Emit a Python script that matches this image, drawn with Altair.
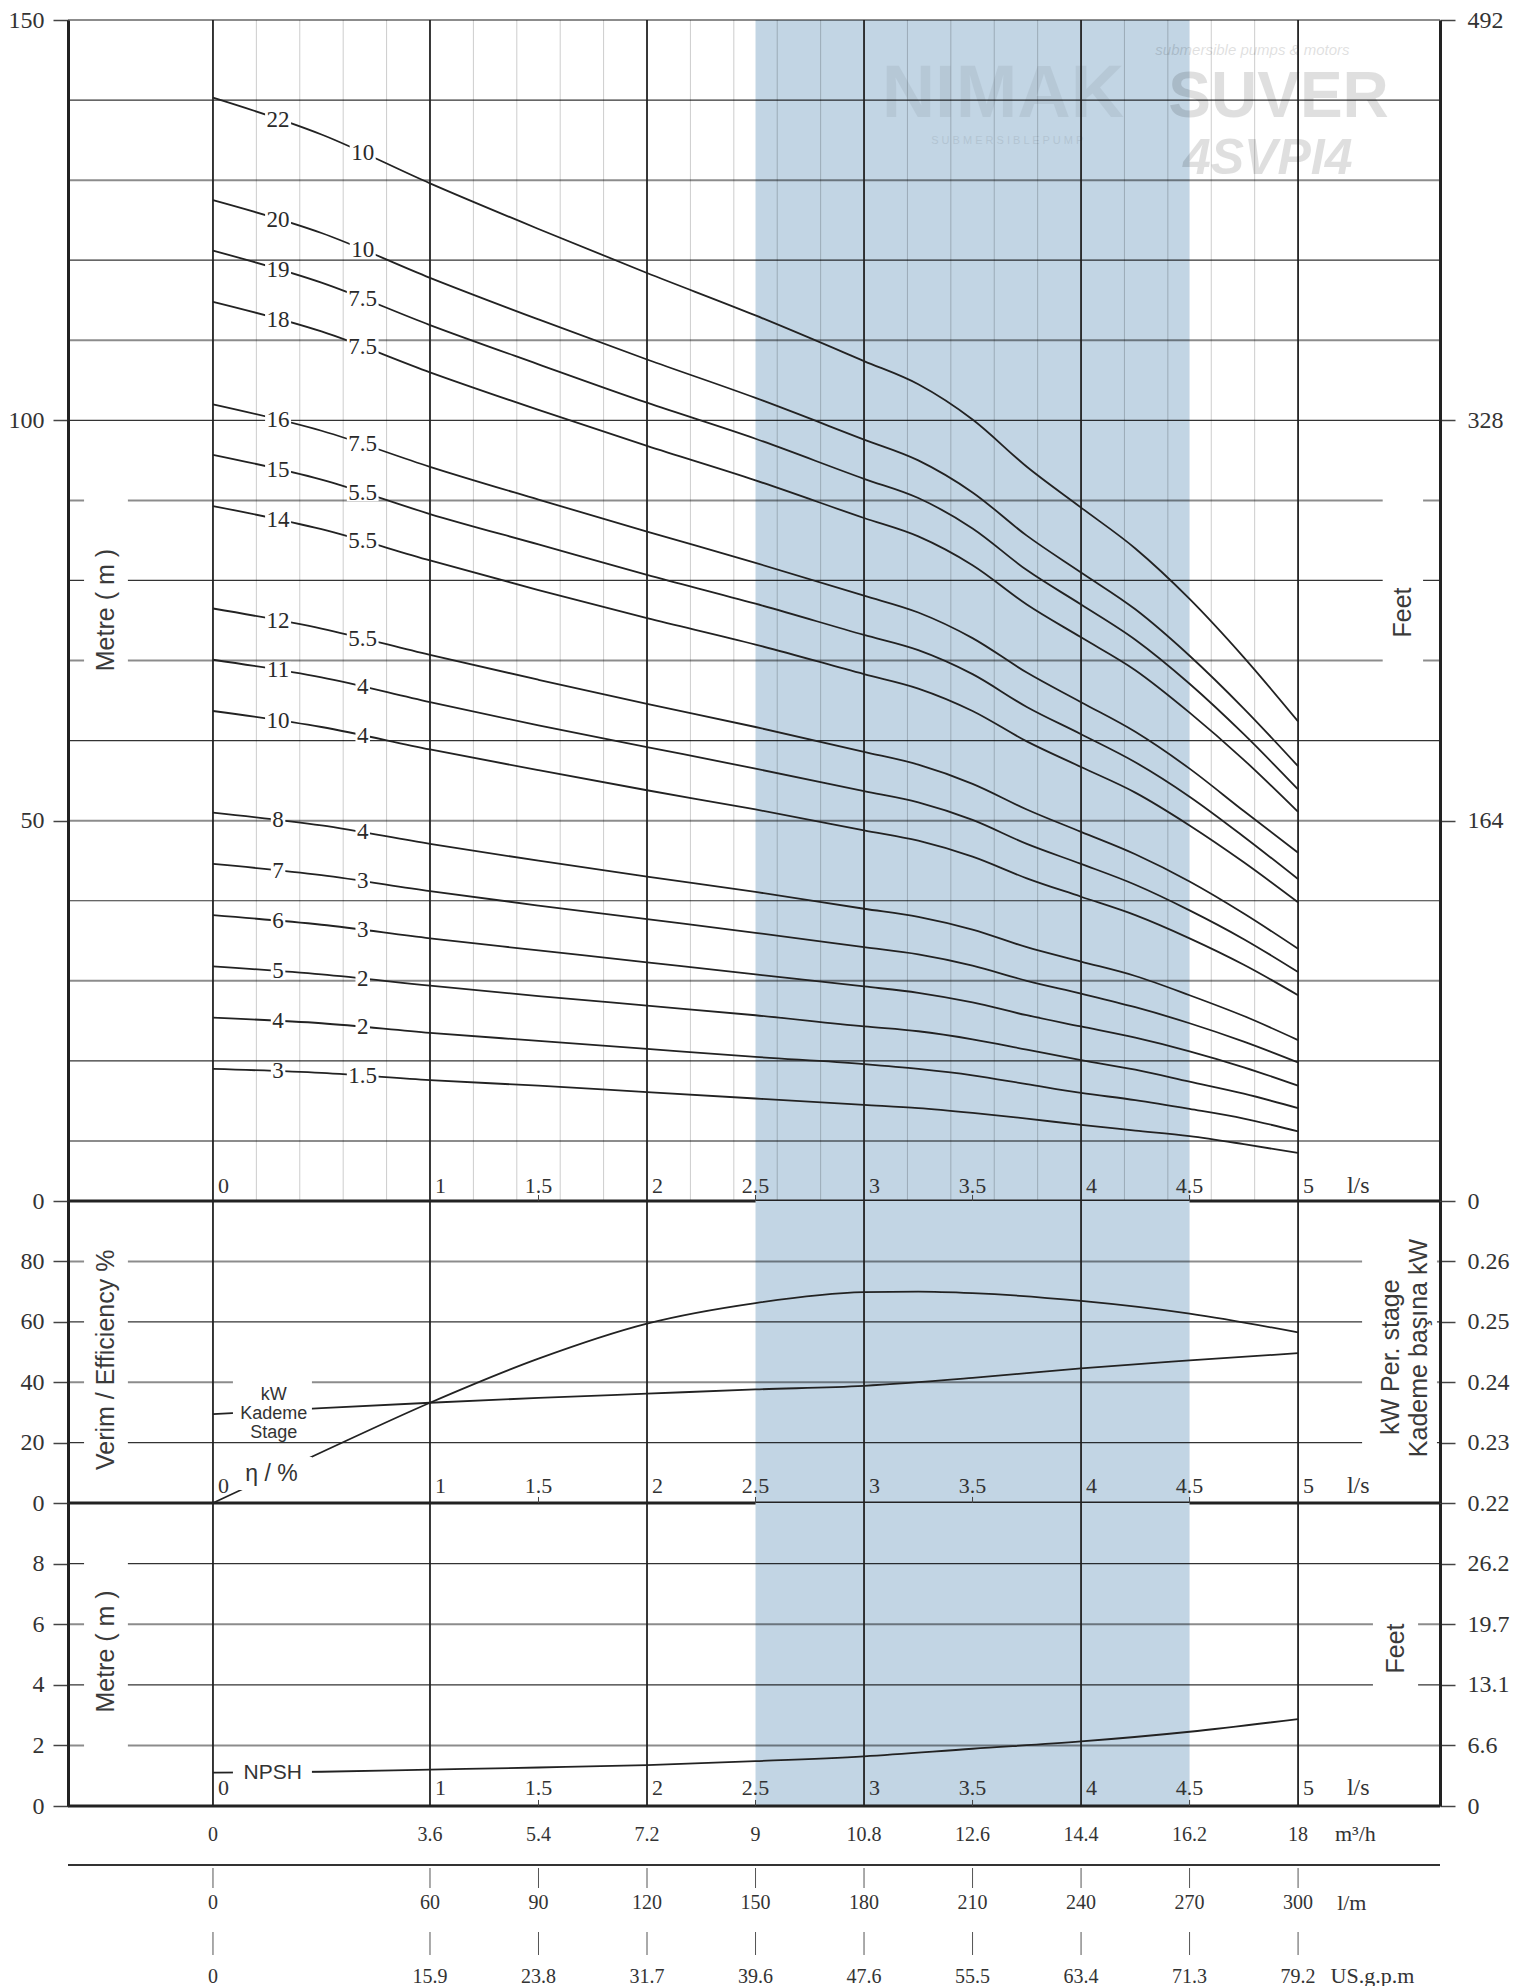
import altair as alt
import numpy as np
import pandas as pd

SERIF = "Liberation Serif"
SANS = "Liberation Sans"
INK = "#222222"
SHADE_COLOR = "#c2d5e4"

# ---------------- flow axis (l/s) ----------------
XDOM = [-0.668, 5.654]
PLOT_W = 1372
PX_PER_Q = 217.0
SHADE_Q = [2.5, 4.5]
MAJOR_Q = [0, 1, 2, 3, 4, 5]
MINOR_Q = [0.2, 0.4, 0.6, 0.8, 1.2, 1.4, 1.6, 1.8, 2.2, 2.4, 2.6, 2.8, 3.2, 3.4, 3.6, 3.8,
           4.2, 4.4, 4.6, 4.8]
LS_INT = [0, 1, 2, 3, 4, 5]
LS_HALF = [1.5, 2.5, 3.5, 4.5]

# ---------------- head curves (m), one list per pump ----------------
Q_PTS = [0, 0.5, 1, 1.5, 2, 2.5, 3, 3.25, 3.5, 3.75, 4, 4.25, 4.5, 4.75, 5]
STAGES = [22, 20, 19, 18, 16, 15, 14, 12, 11, 10, 8, 7, 6, 5, 4, 3]
MOTOR_KW = ["10", "10", "7.5", "7.5", "7.5", "5.5", "5.5", "5.5", "4", "4", "4", "3", "3", "2", "2", "1.5"]
H_22 = [140.3, 135.7, 129.6, 123.9, 118.4, 113.1, 107.4, 104.5, 100.1, 94.2, 89.1, 84.0, 77.7, 70.4, 62.4]
H_20 = [127.5, 123.4, 117.8, 112.6, 107.6, 102.8, 97.6, 95.0, 91.0, 85.6, 81.0, 76.4, 70.6, 64.0, 56.8]
H_19 = [121.2, 117.2, 111.9, 107.0, 102.2, 97.7, 92.7, 90.3, 86.5, 81.3, 77.0, 72.6, 67.1, 60.8, 53.9]
H_18 = [114.8, 111.1, 106.0, 101.3, 96.8, 92.5, 87.8, 85.5, 81.9, 77.0, 72.9, 68.8, 63.5, 57.6, 51.1]
H_16 = [102.0, 98.7, 94.2, 90.1, 86.1, 82.2, 78.1, 76.0, 72.8, 68.5, 64.8, 61.1, 56.5, 51.2, 46.0]
H_15 = [95.7, 92.6, 88.3, 84.5, 80.7, 77.1, 73.2, 71.3, 68.3, 64.2, 60.8, 57.3, 53.0, 48.0, 42.7]
H_14 = [89.3, 86.4, 82.5, 78.8, 75.3, 72.0, 68.3, 66.5, 63.7, 59.9, 56.7, 53.5, 49.4, 44.8, 39.8]
H_12 = [76.5, 74.0, 70.7, 67.6, 64.6, 61.7, 58.6, 57.0, 54.6, 51.4, 48.6, 45.8, 42.4, 38.4, 34.0]
H_11 = [70.1, 67.9, 64.8, 61.9, 59.2, 56.5, 53.7, 52.3, 50.1, 47.1, 44.6, 42.0, 38.8, 35.2, 31.1]
H_10 = [63.7, 61.7, 58.9, 56.3, 53.8, 51.4, 48.8, 47.5, 45.5, 42.8, 40.5, 38.2, 35.3, 32.0, 28.2]
H_8 = [51.0, 49.4, 47.1, 45.0, 43.0, 41.1, 39.0, 38.0, 36.4, 34.2, 32.4, 30.6, 28.2, 25.6, 22.6]
H_7 = [44.6, 43.2, 41.2, 39.4, 37.7, 36.0, 34.2, 33.3, 31.9, 30.0, 28.4, 26.7, 24.7, 22.4, 19.8]
H_6 = [38.2, 37.0, 35.3, 33.8, 32.3, 30.8, 29.3, 28.5, 27.3, 25.7, 24.3, 22.9, 21.2, 19.2, 16.9]
H_5 = [31.8, 30.8, 29.4, 28.1, 26.9, 25.7, 24.3, 23.7, 22.7, 21.4, 20.1, 18.9, 17.4, 15.9, 14.1]
H_4 = [25.4, 24.7, 23.5, 22.5, 21.5, 20.5, 19.6, 19.0, 18.2, 17.1, 16.0, 15.1, 14.0, 12.8, 11.2]
H_3 = [19.0, 18.5, 17.6, 16.9, 16.1, 15.3, 14.5, 14.1, 13.5, 12.8, 12.0, 11.3, 10.6, 9.6, 8.5]
HEADS = [H_22, H_20, H_19, H_18, H_16, H_15, H_14, H_12, H_11, H_10, H_8, H_7, H_6, H_5, H_4, H_3]

# ---------------- efficiency, kW per stage, NPSH ----------------
EFF_Q = [0, 0.5, 1, 1.5, 2, 2.5, 3, 3.25, 3.5, 4, 4.5, 5]
EFF = [0, 16.8, 33.2, 47.8, 59.4, 66.2, 69.8, 70.0, 69.5, 66.9, 62.7, 56.5]
KW_Q = [0, 0.5, 1, 1.5, 2, 2.5, 3, 3.5, 4, 4.5, 5]
KW = [0.2347, 0.2357, 0.2366, 0.2374, 0.2381, 0.2388, 0.2394, 0.2407, 0.2423, 0.2436, 0.2448]
NPSH_Q = [0, 0.5, 1, 1.5, 2, 2.5, 3, 3.5, 4, 4.5, 5]
NPSH = [1.10, 1.13, 1.20, 1.27, 1.35, 1.48, 1.64, 1.89, 2.13, 2.45, 2.87]

# ---------------- axes ----------------
TOP_DOM = [2.5, 150]          # bottom edge of the printed head grid is labelled 0
TOP_H = 1181
TOP_FT_DOM = [8.2, 492]
TOP_M_TICKS = [2.5, 50, 100, 150]
TOP_FT_TICKS = [8.2, 164, 328, 492]
TOP_DARK = [20, 40, 60, 80, 100, 120, 140]
TOP_GRAY = [10, 30, 50, 70, 90, 110, 130, 150]
MID_DOM = [0, 100]
KW_DOM = [0.22, 0.27]
MID_TICKS = [0, 20, 40, 60, 80]
KW_TICKS = [0.22, 0.23, 0.24, 0.25, 0.26]
MID_GRID = [20, 40, 60, 80]
BOT_DOM = [0, 10]
BOT_FT_DOM = [0, 32.8]
BOT_TICKS = [0, 2, 4, 6, 8]
BOT_FT_TICKS = [0, 6.56, 13.12, 19.68, 26.24]
BOT_GRID = [2, 4, 6, 8]

# ---------------- unit conversion rows ----------------
ROW_Q = [0, 1, 1.5, 2, 2.5, 3, 3.5, 4, 4.5, 5]
M3H = ["0", "3.6", "5.4", "7.2", "9", "10.8", "12.6", "14.4", "16.2", "18"]
LPM = ["0", "60", "90", "120", "150", "180", "210", "240", "270", "300"]
USGPM = ["0", "15.9", "23.8", "31.7", "39.6", "47.6", "55.5", "63.4", "71.3", "79.2"]


def xx(field="q"):
    return alt.X(f"{field}:Q", scale=alt.Scale(domain=XDOM, nice=False, zero=False), axis=None)


def yy(field, dom, axis=None):
    return alt.Y(f"{field}:Q", scale=alt.Scale(domain=dom, nice=False, zero=False), axis=axis)


AX = dict(labelFont=SERIF, labelFontSize=24, labelColor="#333333", tickSize=15,
          tickColor="#444444", tickWidth=1.5, domainColor=INK, domainWidth=3, grid=False,
          labelOverlap=False, zindex=1, title=None)


def left_axis(values, expr=None):
    kw = dict(AX, orient="left", values=values, labelPadding=9)
    if expr:
        kw["labelExpr"] = expr
    return alt.Axis(**kw)


def right_axis(values, expr=None, fmt=None):
    kw = dict(AX, orient="right", values=values, labelPadding=12)
    if expr:
        kw["labelExpr"] = expr
    if fmt:
        kw["format"] = fmt
    return alt.Axis(**kw)


def df(**cols):
    return pd.DataFrame(cols)


def frame(dom, dark, gray, minor, axis):
    L = []
    L.append(alt.Chart(df(q=[SHADE_Q[0]], q2=[SHADE_Q[1]], y=[dom[0]], y2=[dom[1]]))
             .mark_rect(color=SHADE_COLOR)
             .encode(x=xx(), x2="q2:Q", y=yy("y", dom, axis), y2="y2:Q"))
    if minor:
        L.append(alt.Chart(df(q=MINOR_Q)).mark_rule(color="black", opacity=0.2, strokeWidth=1)
                 .encode(x=xx()))
    if gray:
        L.append(alt.Chart(df(y=gray)).mark_rule(color="black", opacity=0.45, strokeWidth=2)
                 .encode(y=yy("y", dom)))
    if dark:
        L.append(alt.Chart(df(y=dark)).mark_rule(color="black", opacity=0.8, strokeWidth=1.2)
                 .encode(y=yy("y", dom)))
    L.append(alt.Chart(df(q=MAJOR_Q)).mark_rule(color=INK, strokeWidth=1.8).encode(x=xx()))
    L.append(alt.Chart(df(y=[dom[0]])).mark_rule(color=INK, strokeWidth=3).encode(y=yy("y", dom)))
    return L


def boxes(dom, rows):
    d = pd.DataFrame(rows, columns=["q", "q2", "y", "y2"])
    return alt.Chart(d).mark_rect(color="white").encode(x=xx(), x2="q2:Q", y=yy("y", dom), y2="y2:Q")


def ls_labels(dom, dy, tick_len):
    base = dom[0]
    L = []
    L.append(alt.Chart(df(q=LS_HALF, y=[base] * 4, y2=[base + tick_len] * 4))
             .mark_rule(color="#444444", strokeWidth=1).encode(x=xx(), y=yy("y", dom), y2="y2:Q"))
    L.append(alt.Chart(df(q=LS_INT, y=[base] * 6, t=[str(v) for v in LS_INT]))
             .mark_text(font=SERIF, fontSize=22, color="#333333", align="left", baseline="bottom",
                        dx=5, dy=dy)
             .encode(x=xx(), y=yy("y", dom), text="t:N"))
    L.append(alt.Chart(df(q=LS_HALF, y=[base] * 4, t=[str(v) for v in LS_HALF]))
             .mark_text(font=SERIF, fontSize=22, color="#333333", align="center", baseline="bottom",
                        dy=dy)
             .encode(x=xx(), y=yy("y", dom), text="t:N"))
    L.append(alt.Chart(df(q=[5.225], y=[base], t=["l/s"]))
             .mark_text(font=SERIF, fontSize=24, color="#333333", align="left", baseline="bottom",
                        dy=dy)
             .encode(x=xx(), y=yy("y", dom), text="t:N"))
    return L


def vtext(dom, q, y, t, size=25):
    return (alt.Chart(df(q=[q], y=[y], t=[t]))
            .mark_text(font=SANS, fontSize=size, color="#3a3a3a", angle=270, align="center",
                       baseline="middle")
            .encode(x=xx(), y=yy("y", dom), text="t:N"))


# ================= top panel: head =================
LABEL_FS = 23
m_per_px = (TOP_DOM[1] - TOP_DOM[0]) / TOP_H
curve_rows = []
label_rows = []
for n, hs, kw in zip(STAGES, HEADS, MOTOR_KW):
    for q, h in zip(Q_PTS, hs):
        curve_rows.append({"n": n, "q": q, "h": h})
    for q_lab, txt in ((0.30, str(n)), (0.69, kw)):
        h_lab = float(np.interp(q_lab, Q_PTS, hs))
        w_px = LABEL_FS * sum(0.25 if c == "." else 0.5 for c in txt) + 3
        half_q = w_px / 2 / PX_PER_Q
        half_h = 8.5 * m_per_px
        label_rows.append({"q": q_lab, "h": h_lab, "t": txt,
                           "bq": q_lab - half_q, "bq2": q_lab + half_q,
                           "bh": h_lab - half_h, "bh2": h_lab + half_h})
curves = pd.DataFrame(curve_rows)
labels = pd.DataFrame(label_rows)

top_layers = frame(TOP_DOM, TOP_DARK, TOP_GRAY, True,
                   left_axis(TOP_M_TICKS, "datum.value < 5 ? '0' : datum.label"))
# watermark
wm = pd.DataFrame([
    {"q": 3.64, "y": 140.6, "t": "NIMAK", "s": 74, "w": "bold", "st": "normal", "o": 0.055},
    {"q": 3.66, "y": 134.9, "t": "S U B M E R S I B L E  P U M P", "s": 11, "w": "normal", "st": "normal", "o": 0.08},
    {"q": 4.79, "y": 146.3, "t": "submersible pumps & motors", "s": 15, "w": "normal", "st": "italic", "o": 0.12},
    {"q": 4.91, "y": 140.2, "t": "SUVER", "s": 64, "w": "bold", "st": "normal", "o": 0.12},
    {"q": 4.86, "y": 132.6, "t": "4SVPI4", "s": 50, "w": "bold", "st": "italic", "o": 0.12},
])
for _, r in wm.iterrows():
    top_layers.insert(1, alt.Chart(df(q=[r.q], y=[r.y], t=[r.t]))
                      .mark_text(font=SANS, fontSize=int(r.s), fontWeight=r.w, fontStyle=r.st,
                                 color="black", opacity=float(r.o), align="center", baseline="middle")
                      .encode(x=xx(), y=yy("y", TOP_DOM), text="t:N"))
top_layers.append(boxes(TOP_DOM, [[-0.594, -0.392, 61.8, 91.1], [5.39, 5.576, 61.0, 91.0]]))
top_layers.append(alt.Chart(curves).mark_line(color=INK, strokeWidth=1.8, interpolate="monotone")
                  .encode(x=xx(), y=yy("h", TOP_DOM), detail="n:N"))
top_layers.append(alt.Chart(labels).mark_rect(color="white")
                  .encode(x=xx("bq"), x2="bq2:Q", y=yy("bh", TOP_DOM), y2="bh2:Q"))
top_layers.append(alt.Chart(labels).mark_text(font=SERIF, fontSize=LABEL_FS, color="#2a2a2a",
                                              align="center", baseline="middle")
                  .encode(x=xx(), y=yy("h", TOP_DOM), text="t:N"))
top_layers.append(vtext(TOP_DOM, -0.493, 76.3, "Metre ( m )"))
top_layers.append(vtext(TOP_DOM, 5.483, 76.0, "Feet"))
top_layers += ls_labels(TOP_DOM, -3, 0.75)
top_layers.append(alt.Chart(df(q=[0], f=[164])).mark_point(opacity=0)
                  .encode(x=xx(), y=yy("f", TOP_FT_DOM,
                                       right_axis(TOP_FT_TICKS, "datum.value < 10 ? '0' : datum.label"))))
top = alt.layer(*top_layers).resolve_scale(y="independent").properties(width=PLOT_W, height=TOP_H)

# ================= middle panel: efficiency and kW per stage =================
eff_df = df(q=EFF_Q, e=EFF)
kw_df = df(q=KW_Q, k=KW)
mid_layers = frame(MID_DOM, MID_GRID[::2], MID_GRID[1::2], False, left_axis(MID_TICKS))
mid_layers.append(alt.Chart(eff_df).mark_line(color=INK, strokeWidth=1.8, interpolate="monotone")
                  .encode(x=xx(), y=yy("e", MID_DOM)))
mid_layers.append(alt.Chart(kw_df).mark_line(color=INK, strokeWidth=1.8, interpolate="monotone")
                  .encode(x=xx(), y=yy("k", KW_DOM, right_axis(KW_TICKS, fmt=".2f"))))
mid_layers.append(boxes(MID_DOM, [[-0.594, -0.392, 6.0, 91.4], [5.295, 5.64, 12.0, 89.0],
                                  [0.092, 0.456, 20.9, 41.0], [0.092, 0.456, 4.3, 15.2]]))
mid_layers.append(vtext(MID_DOM, -0.493, 47.4, "Verim / Efficiency  %"))
mid_layers.append(vtext(MID_DOM, 5.43, 48.3, "kW Per. stage"))
mid_layers.append(vtext(MID_DOM, 5.555, 51.3, "Kademe başına kW"))
mid_layers.append(alt.Chart(df(q=[0.28], y=[35.6], t=["kW\nKademe\nStage"]))
                  .mark_text(font=SANS, fontSize=18, lineHeight=19, lineBreak="\n", color="#333333",
                             align="center", baseline="middle")
                  .encode(x=xx(), y=yy("y", MID_DOM), text="t:N"))
mid_layers.append(alt.Chart(df(q=[0.27], y=[9.6], t=["η / %"]))
                  .mark_text(font=SANS, fontSize=23, color="#333333", align="center", baseline="middle")
                  .encode(x=xx(), y=yy("y", MID_DOM), text="t:N"))
mid_layers += ls_labels(MID_DOM, -5, 2.0)
mid = alt.layer(*mid_layers).resolve_scale(y="independent").properties(width=PLOT_W, height=302)

# ================= bottom panel: NPSH =================
npsh_df = df(q=NPSH_Q, n=NPSH)
bot_layers = frame(BOT_DOM, BOT_GRID[1::2], BOT_GRID[::2], False, left_axis(BOT_TICKS))
bot_layers.append(alt.Chart(npsh_df).mark_line(color=INK, strokeWidth=1.8, interpolate="monotone")
                  .encode(x=xx(), y=yy("n", BOT_DOM)))
bot_layers.append(boxes(BOT_DOM, [[-0.594, -0.392, 1.4, 8.6], [5.345, 5.553, 3.5, 6.8],
                                  [0.092, 0.456, 0.65, 1.6]]))
bot_layers.append(vtext(BOT_DOM, -0.493, 5.1, "Metre ( m )"))
bot_layers.append(vtext(BOT_DOM, 5.45, 5.2, "Feet"))
bot_layers.append(alt.Chart(df(q=[0.275], y=[1.1], t=["NPSH"]))
                  .mark_text(font=SANS, fontSize=21, color="#333333", align="center", baseline="middle")
                  .encode(x=xx(), y=yy("y", BOT_DOM), text="t:N"))
bot_layers += ls_labels(BOT_DOM, -6, 0.2)
bot_layers.append(alt.Chart(df(q=[0], f=[6.56])).mark_point(opacity=0)
                  .encode(x=xx(), y=yy("f", BOT_FT_DOM,
                                       right_axis(BOT_FT_TICKS,
                                                  "datum.value == 0 ? '0' : format(datum.value, '.1f')"))))
bot = alt.layer(*bot_layers).resolve_scale(y="independent").properties(width=PLOT_W, height=303)

# ================= unit conversion rows =================
ROWS_DOM = [0, 178]


def ry(field):
    return alt.Y(f"{field}:Q", scale=alt.Scale(domain=ROWS_DOM, reverse=True, nice=False, zero=False),
                 axis=None)


def row_text(qs, ys, ts, align="center", size=20):
    return (alt.Chart(df(q=qs, y=ys, t=ts))
            .mark_text(font=SERIF, fontSize=size, color="#333333", align=align, baseline="middle")
            .encode(x=xx(), y=ry("y"), text="t:N"))


n = len(ROW_Q)
rows_layers = [
    row_text(ROW_Q, [29] * n, M3H),
    row_text([5.17], [28], ["m³/h"], "left", 22),
    alt.Chart(df(q=[XDOM[0]], q2=[XDOM[1]], y=[59])).mark_rule(color="#333333", strokeWidth=2)
    .encode(x=xx(), x2="q2:Q", y=ry("y")),
    alt.Chart(df(q=ROW_Q, y=[62] * n, y2=[82] * n)).mark_rule(color="#555555", strokeWidth=1)
    .encode(x=xx(), y=ry("y"), y2="y2:Q"),
    row_text(ROW_Q, [97] * n, LPM),
    row_text([5.18], [97], ["l/m"], "left", 22),
    alt.Chart(df(q=ROW_Q, y=[126] * n, y2=[149] * n)).mark_rule(color="#555555", strokeWidth=1)
    .encode(x=xx(), y=ry("y"), y2="y2:Q"),
    row_text(ROW_Q, [171] * n, USGPM),
    row_text([5.15], [170], ["US.g.p.m"], "left", 22),
]
rows = alt.layer(*rows_layers).properties(width=PLOT_W, height=178)

chart = (alt.vconcat(top, mid, bot, rows, spacing=0, bounds="flush")
         .properties(padding={"left": 0, "top": 0, "right": 5, "bottom": 0}, background="white")
         .configure_view(strokeWidth=0))

chart.save("out.html", embed_options={"renderer": "svg", "actions": False})
